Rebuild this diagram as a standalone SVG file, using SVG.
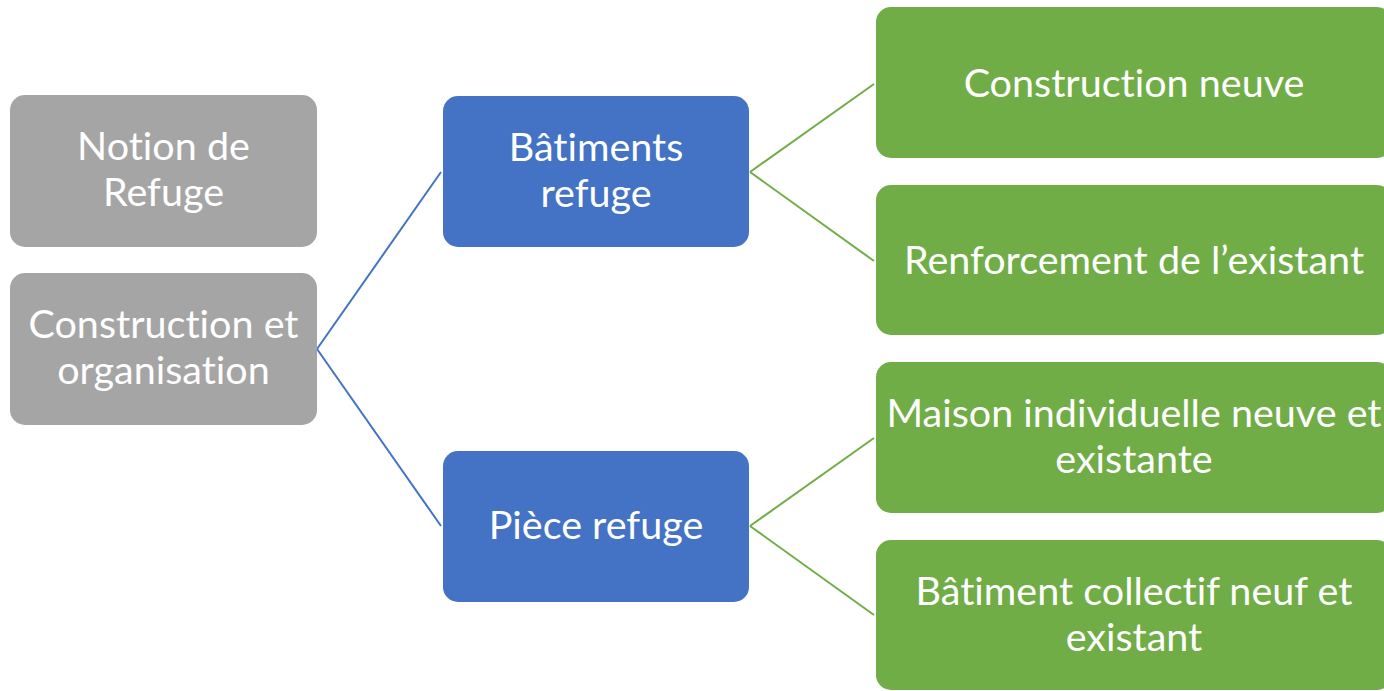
<svg xmlns="http://www.w3.org/2000/svg" width="1384" height="691" viewBox="0 0 1384 691">
<style>
.gray{fill:#A5A5A5}
.blue{fill:#4472C4}
.green{fill:#70AD47}
text{font-family:"Lato","Liberation Sans",sans-serif;font-size:39.5px;fill:#fff;text-anchor:middle;font-variant-ligatures:none;font-feature-settings:"liga" 0}
.cb{stroke:#4472C4;stroke-width:2;fill:none}
.cg{stroke:#70AD47;stroke-width:2;fill:none}
</style>
<rect width="1384" height="691" fill="#fff"/>
<g id="connectors">
<path class="cb" d="M317,349 L441,172"/>
<path class="cb" d="M317,349 L441,526"/>
<path class="cg" d="M750,172 L874,84"/>
<path class="cg" d="M750,172 L874,261"/>
<path class="cg" d="M750,526 L874,438"/>
<path class="cg" d="M750,526 L874,615"/>
</g>
<g id="n1"><rect class="gray" x="10" y="95" width="307" height="152" rx="15"/><text x="163.5" y="160">Notion de</text><text x="163.5" y="206">Refuge</text></g>
<g id="n2"><rect class="gray" x="10" y="273" width="307" height="152" rx="15"/><text x="163.5" y="338">Construction et</text><text x="163.5" y="384">organisation</text></g>
<g id="n3"><rect class="blue" x="443" y="96" width="306" height="151" rx="15"/><text x="596" y="161">Bâtiments</text><text x="596" y="207">refuge</text></g>
<g id="n4"><rect class="blue" x="443" y="451" width="306" height="151" rx="15"/><text x="596" y="539">Pièce refuge</text></g>
<g id="n5"><rect class="green" x="876" y="7" width="516" height="151" rx="15"/><text x="1134" y="97">Construction neuve</text></g>
<g id="n6"><rect class="green" x="876" y="185" width="516" height="150" rx="15"/><text x="1134" y="274">Renforcement de l’existant</text></g>
<g id="n7"><rect class="green" x="876" y="362" width="516" height="151" rx="15"/><text x="1134" y="427">Maison individuelle neuve et</text><text x="1134" y="473">existante</text></g>
<g id="n8"><rect class="green" x="876" y="540" width="516" height="150" rx="15"/><text x="1134" y="605">Bâtiment collectif neuf et</text><text x="1134" y="651">existant</text></g>
</svg>
